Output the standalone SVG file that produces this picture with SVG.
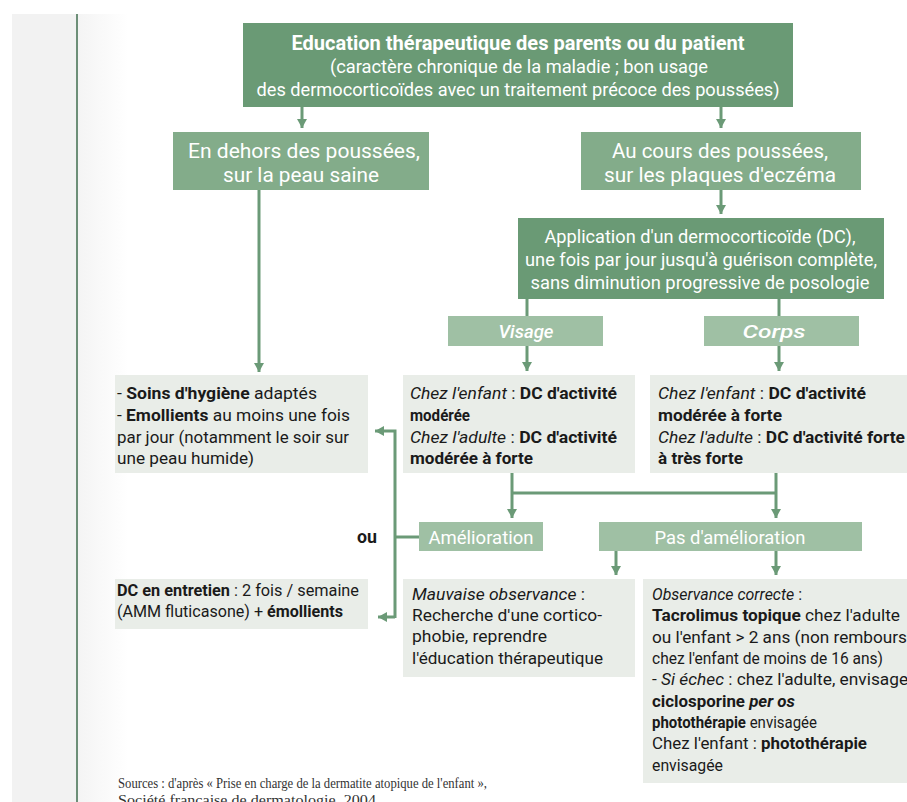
<svg xmlns="http://www.w3.org/2000/svg" width="907" height="802" viewBox="0 0 907 802">
<defs>
<linearGradient id="fade" x1="0" y1="0" x2="1" y2="0">
<stop offset="0" stop-color="#f4f4f4"/>
<stop offset="1" stop-color="#ffffff"/>
</linearGradient>
<marker id="ah" markerUnits="userSpaceOnUse" markerWidth="10" markerHeight="10" refX="9" refY="5" orient="auto">
<path d="M0,0 L9,5 L0,10 z" fill="#6b9a77"/>
</marker>
<style>
.dark{fill:#6a9a75}
.mid{fill:#83ac8a}
.light{fill:#9fc0a4}
.gray{fill:#e9ede8}
.wt{fill:#ffffff;font-family:Roboto,"Liberation Sans",sans-serif}
.bt{fill:#1a1a1a;font-family:Roboto,"Liberation Sans",sans-serif;font-size:16px}
.b{font-weight:bold}
.i{font-style:italic}
.con{fill:none;stroke:#6b9a77;stroke-width:3}
.src{fill:#333;font-family:"Liberation Serif",serif;font-size:15px}
</style>
</defs>
<rect x="0" y="0" width="907" height="802" fill="#ffffff"/>
<rect x="12" y="14" width="64" height="788" fill="#f2f2f2"/>
<rect x="78" y="14" width="50" height="788" fill="url(#fade)"/>
<line x1="77" y1="14" x2="77" y2="802" stroke="#6d8f78" stroke-width="2"/>

<g id="connectors">
<line class="con" x1="302" y1="107" x2="302" y2="128" marker-end="url(#ah)"/>
<line class="con" x1="721" y1="107" x2="721" y2="128" marker-end="url(#ah)"/>
<line class="con" x1="259" y1="190" x2="259" y2="372" marker-end="url(#ah)"/>
<line class="con" x1="721" y1="190" x2="721" y2="214" marker-end="url(#ah)"/>
<line class="con" x1="527" y1="299" x2="527" y2="316"/>
<line class="con" x1="779" y1="299" x2="779" y2="316"/>
<line class="con" x1="527" y1="346" x2="527" y2="371" marker-end="url(#ah)"/>
<line class="con" x1="779" y1="346" x2="779" y2="371" marker-end="url(#ah)"/>
<line class="con" x1="512" y1="473" x2="512" y2="518" marker-end="url(#ah)"/>
<line class="con" x1="776" y1="473" x2="776" y2="518" marker-end="url(#ah)"/>
<line class="con" x1="512" y1="493" x2="776" y2="493"/>
<line class="con" x1="419" y1="537" x2="395" y2="537"/>
<path class="con" d="M395,618 L395,431 L375,431" marker-end="url(#ah)"/>
<path class="con" d="M395,617 L378,617" marker-end="url(#ah)"/>
<line class="con" x1="616" y1="551" x2="616" y2="575" marker-end="url(#ah)"/>
<line class="con" x1="776" y1="551" x2="776" y2="575" marker-end="url(#ah)"/>
</g>

<g id="education">
<rect class="dark" x="243" y="23" width="550" height="84"/>
<text class="wt b" x="518" y="50" font-size="20" text-anchor="middle" textLength="453" lengthAdjust="spacingAndGlyphs">Education thérapeutique des parents ou du patient</text>
<text class="wt" x="519" y="73" font-size="17.5" text-anchor="middle" textLength="378" lengthAdjust="spacingAndGlyphs">(caractère chronique de la maladie ; bon usage</text>
<text class="wt" x="518" y="96" font-size="17.5" text-anchor="middle" textLength="523" lengthAdjust="spacingAndGlyphs">des dermocorticoïdes avec un traitement précoce des poussées)</text>
</g>

<g id="hors-poussees">
<rect class="mid" x="173" y="132" width="256" height="58"/>
<text class="wt" x="304" y="158" font-size="21" text-anchor="middle" textLength="232" lengthAdjust="spacingAndGlyphs">En dehors des poussées,</text>
<text class="wt" x="301" y="182" font-size="21" text-anchor="middle" textLength="156" lengthAdjust="spacingAndGlyphs">sur la peau saine</text>
</g>

<g id="cours-poussees">
<rect class="mid" x="581" y="132" width="280" height="58"/>
<text class="wt" x="720" y="158" font-size="21" text-anchor="middle" textLength="216" lengthAdjust="spacingAndGlyphs">Au cours des poussées,</text>
<text class="wt" x="720" y="182" font-size="21" text-anchor="middle" textLength="232" lengthAdjust="spacingAndGlyphs">sur les plaques d'eczéma</text>
</g>

<g id="application">
<rect class="dark" x="518" y="218" width="366" height="81"/>
<text class="wt" x="700" y="243" font-size="18.5" text-anchor="middle" textLength="311" lengthAdjust="spacingAndGlyphs">Application d'un dermocorticoïde (DC),</text>
<text class="wt" x="701" y="266" font-size="18.5" text-anchor="middle" textLength="352" lengthAdjust="spacingAndGlyphs">une fois par jour jusqu'à guérison complète,</text>
<text class="wt" x="700" y="289" font-size="18.5" text-anchor="middle" textLength="339" lengthAdjust="spacingAndGlyphs">sans diminution progressive de posologie</text>
</g>

<g id="visage">
<rect class="light" x="448" y="316" width="155" height="30"/>
<text class="wt i" x="526" y="338" font-size="19" font-weight="500" text-anchor="middle" textLength="55" lengthAdjust="spacingAndGlyphs">Visage</text>
</g>

<g id="corps">
<rect class="light" x="704" y="316" width="155" height="30"/>
<text class="wt i" x="774" y="338" font-size="19" font-weight="500" text-anchor="middle" textLength="63" lengthAdjust="spacingAndGlyphs">Corps</text>
</g>

<g id="soins">
<rect class="gray" x="115" y="375" width="253" height="98"/>
<text class="bt" x="117" y="399" textLength="200" lengthAdjust="spacingAndGlyphs">- <tspan class="b">Soins d'hygiène</tspan> adaptés</text>
<text class="bt" x="117" y="421" textLength="233" lengthAdjust="spacingAndGlyphs">- <tspan class="b">Emollients</tspan> au moins une fois</text>
<text class="bt" x="117" y="443" textLength="232" lengthAdjust="spacingAndGlyphs">par jour (notamment le soir sur</text>
<text class="bt" x="117" y="464" textLength="137" lengthAdjust="spacingAndGlyphs">une peau humide)</text>
</g>

<g id="dc-visage">
<rect class="gray" x="403" y="375" width="232" height="98"/>
<text class="bt" x="410" y="399" textLength="207" lengthAdjust="spacingAndGlyphs"><tspan class="i">Chez l'enfant</tspan> : <tspan class="b">DC d'activité</tspan></text>
<text class="bt b" x="410" y="421" textLength="60" lengthAdjust="spacingAndGlyphs">modérée</text>
<text class="bt" x="410" y="443" textLength="207" lengthAdjust="spacingAndGlyphs"><tspan class="i">Chez l'adulte</tspan> : <tspan class="b">DC d'activité</tspan></text>
<text class="bt b" x="410" y="464" textLength="123" lengthAdjust="spacingAndGlyphs">modérée à forte</text>
</g>

<g id="dc-corps">
<rect class="gray" x="650" y="375" width="260" height="98"/>
<text class="bt" x="658" y="399" textLength="208" lengthAdjust="spacingAndGlyphs"><tspan class="i">Chez l'enfant</tspan> : <tspan class="b">DC d'activité</tspan></text>
<text class="bt b" x="658" y="421" textLength="124" lengthAdjust="spacingAndGlyphs">modérée à forte</text>
<text class="bt" x="658" y="443" textLength="247" lengthAdjust="spacingAndGlyphs"><tspan class="i">Chez l'adulte</tspan> : <tspan class="b">DC d'activité forte</tspan></text>
<text class="bt b" x="658" y="464" textLength="85" lengthAdjust="spacingAndGlyphs">à très forte</text>
</g>

<g id="ou">
<text class="bt b" x="357" y="543" style="font-size:19px" textLength="20" lengthAdjust="spacingAndGlyphs">ou</text>
</g>

<g id="amelioration">
<rect class="light" x="419" y="522" width="124" height="29"/>
<text class="wt" x="481" y="544" font-size="19" text-anchor="middle" textLength="105" lengthAdjust="spacingAndGlyphs">Amélioration</text>
</g>

<g id="pas-amelioration">
<rect class="light" x="599" y="522" width="263" height="29"/>
<text class="wt" x="730" y="544" font-size="19" text-anchor="middle" textLength="151" lengthAdjust="spacingAndGlyphs">Pas d'amélioration</text>
</g>

<g id="dc-entretien">
<rect class="gray" x="115" y="579" width="253" height="50"/>
<text class="bt" x="117" y="596" textLength="242" lengthAdjust="spacingAndGlyphs"><tspan class="b">DC en entretien</tspan> : 2 fois / semaine</text>
<text class="bt" x="117" y="617" textLength="226" lengthAdjust="spacingAndGlyphs">(AMM fluticasone) + <tspan class="b">émollients</tspan></text>
</g>

<g id="mauvaise">
<rect class="gray" x="403" y="579" width="232" height="98"/>
<text class="bt" x="412" y="600" textLength="173" lengthAdjust="spacingAndGlyphs"><tspan class="i">Mauvaise observance</tspan> :</text>
<text class="bt" x="412" y="621" textLength="190" lengthAdjust="spacingAndGlyphs">Recherche d'une cortico-</text>
<text class="bt" x="412" y="642" textLength="135" lengthAdjust="spacingAndGlyphs">phobie,  reprendre</text>
<text class="bt" x="412" y="664" textLength="191" lengthAdjust="spacingAndGlyphs">l'éducation thérapeutique</text>
</g>

<g id="observance">
<rect class="gray" x="643" y="579" width="267" height="204"/>
<text class="bt" x="652" y="600" textLength="150" lengthAdjust="spacingAndGlyphs"><tspan class="i">Observance correcte</tspan> :</text>
<text class="bt" x="652" y="621" textLength="248" lengthAdjust="spacingAndGlyphs"><tspan class="b">Tacrolimus topique</tspan> chez l'adulte</text>
<text class="bt" x="652" y="643" textLength="264" lengthAdjust="spacingAndGlyphs">ou l'enfant &gt; 2 ans (non remboursé</text>
<text class="bt" x="652" y="664" textLength="231" lengthAdjust="spacingAndGlyphs">chez l'enfant de moins de 16 ans)</text>
<text class="bt" x="652" y="685" textLength="262" lengthAdjust="spacingAndGlyphs">- <tspan class="i">Si échec</tspan> : chez l'adulte, envisager</text>
<text class="bt b" x="652" y="707" textLength="143" lengthAdjust="spacingAndGlyphs">ciclosporine <tspan class="i">per os</tspan></text>
<text class="bt" x="652" y="728" textLength="165" lengthAdjust="spacingAndGlyphs"><tspan class="b">photothérapie</tspan> envisagée</text>
<text class="bt" x="652" y="749" textLength="215" lengthAdjust="spacingAndGlyphs">Chez l'enfant : <tspan class="b">photothérapie</tspan></text>
<text class="bt" x="652" y="771" textLength="71" lengthAdjust="spacingAndGlyphs">envisagée</text>
</g>

<g id="sources">
<text class="src" x="118" y="788" textLength="369" lengthAdjust="spacingAndGlyphs">Sources : d'après « Prise en charge de la dermatite atopique de l'enfant »,</text>
<text class="src" x="118" y="805" textLength="262" lengthAdjust="spacingAndGlyphs">Société française de dermatologie, 2004.</text>
</g>
</svg>
